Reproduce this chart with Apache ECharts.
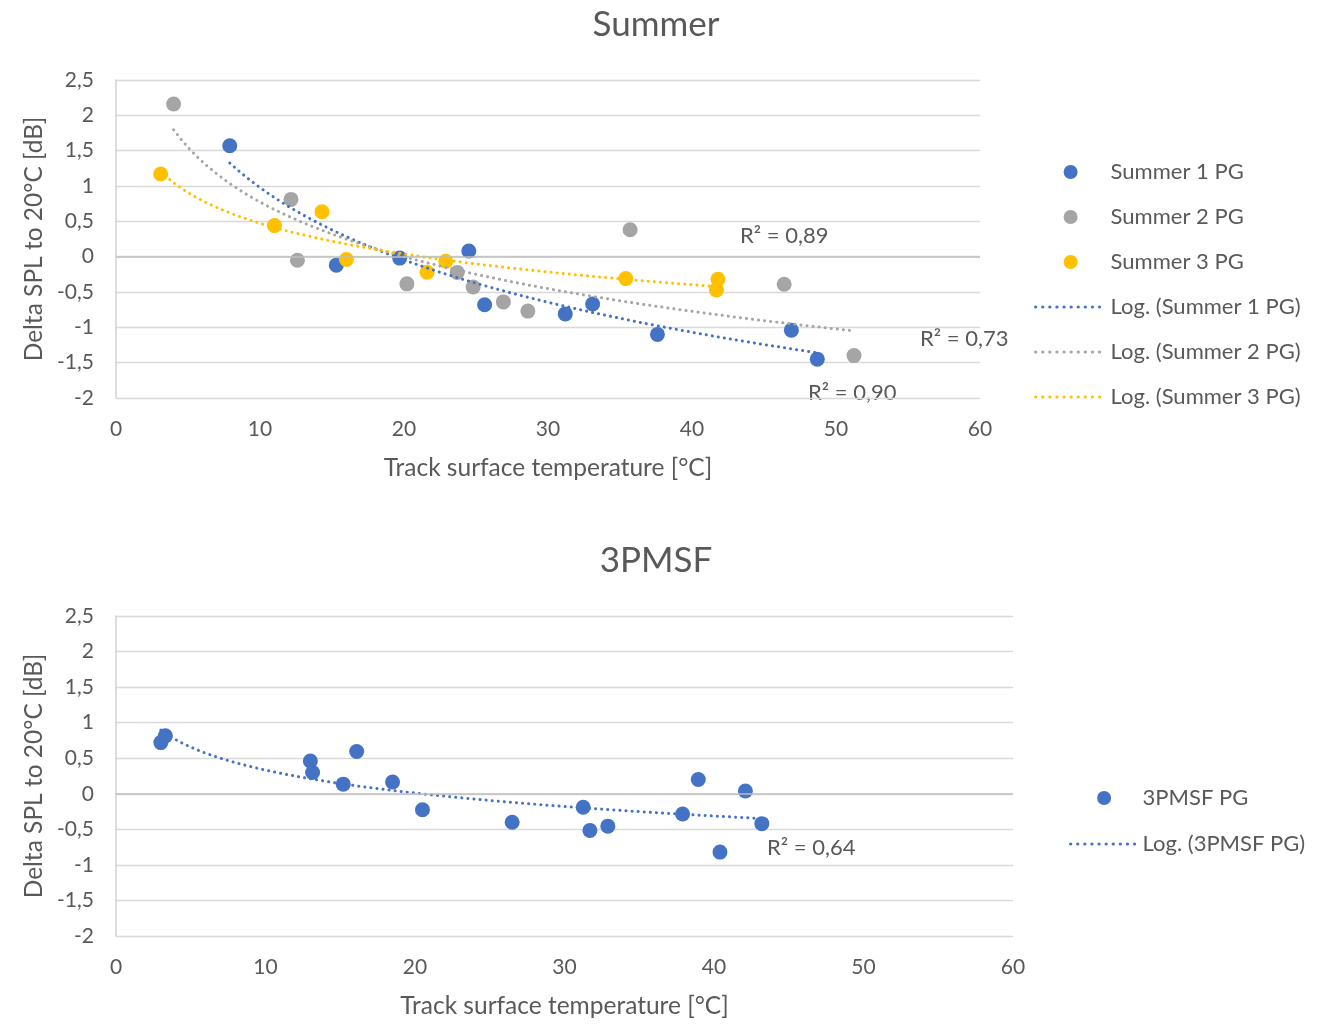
<!DOCTYPE html>
<html>
<head>
<meta charset="utf-8">
<script src="https://cdn.jsdelivr.net/npm/echarts@6/dist/echarts.min.js"></script>
<style>
  html, body { margin: 0; padding: 0; background: #ffffff; }
  #chart { width: 1321px; height: 1024px; }
</style>
</head>
<body>
<div id="chart"></div>
<script>
// Track surface temperature [°C] vs. delta SPL to 20°C [dB]
const summer1X = [7.9, 15.3, 19.7, 24.5, 25.6, 31.2, 33.1, 37.6, 46.9, 48.7];
const summer1Y = [1.57, -0.12, -0.02, 0.08, -0.68, -0.81, -0.67, -1.10, -1.04, -1.45];

const summer2X = [4.0, 12.15, 12.6, 20.2, 23.7, 24.8, 26.9, 28.6, 35.7, 46.4, 51.25];
const summer2Y = [2.16, 0.81, -0.05, -0.385, -0.225, -0.43, -0.64, -0.77, 0.38, -0.39, -1.40];

const summer3X = [3.1, 11.0, 14.3, 16.0, 21.6, 22.9, 35.4, 41.8, 41.7];
const summer3Y = [1.17, 0.44, 0.635, -0.04, -0.22, -0.065, -0.31, -0.32, -0.47];

const pmsfX = [3.0, 3.3, 13.0, 13.15, 16.1, 15.2, 18.5, 20.5, 26.5, 31.25, 31.7, 32.9, 38.95, 37.9, 42.1, 40.4, 43.2];
const pmsfY = [0.72, 0.815, 0.46, 0.30, 0.595, 0.135, 0.165, -0.225, -0.40, -0.19, -0.515, -0.455, 0.20, -0.285, 0.04, -0.82, -0.42];

const xTicks = { min: 0, max: 60, interval: 10 };
const yTicks = { min: -2, max: 2.5, interval: 0.5 };

const rSquaredLabels = ['R² = 0,89', 'R² = 0,73', 'R² = 0,90', 'R² = 0,64'];

const BLUE = '#4472C4', GRAY = '#A5A5A5', GOLD = '#FFC000';
const TEXT = '#595959';
const FONT = 'Lato, "Open Sans", sans-serif';
const DOTS = [0.1, 6];

function zip(xs, ys) { return xs.map((x, i) => [x, ys[i]]); }

// least-squares fit of y = a + b·ln(x), sampled across the data range
function logTrend(xs, ys, steps) {
  const n = xs.length;
  const lx = xs.map(Math.log);
  const mx = lx.reduce((s, v) => s + v, 0) / n;
  const my = ys.reduce((s, v) => s + v, 0) / n;
  let sxy = 0, sxx = 0;
  for (let i = 0; i < n; i++) { sxy += (lx[i] - mx) * (ys[i] - my); sxx += (lx[i] - mx) ** 2; }
  const b = sxy / sxx, a = my - b * mx;
  const lo = Math.min(...xs), hi = Math.max(...xs);
  const pts = [];
  for (let k = 0; k <= steps; k++) {
    const x = lo + (hi - lo) * k / steps;
    pts.push([x, a + b * Math.log(x)]);
  }
  return pts;
}

const commaFmt = v => String(v).replace('.', ',');

function makeX(gridIndex, nameGap) {
  return {
    type: 'value', gridIndex, min: xTicks.min, max: xTicks.max, interval: xTicks.interval,
    name: 'Track surface temperature [°C]', nameLocation: 'middle', nameGap,
    nameTextStyle: { fontSize: 24.5, color: TEXT, fontFamily: FONT },
    axisLine: { show: false }, axisTick: { show: false }, splitLine: { show: false },
    axisLabel: { fontSize: 21, color: TEXT, fontFamily: FONT, margin: 21 }
  };
}
function makeY(gridIndex) {
  return {
    type: 'value', gridIndex, min: yTicks.min, max: yTicks.max, interval: yTicks.interval,
    name: 'Delta SPL to 20°C [dB]', nameLocation: 'middle', nameGap: 68,
    nameTextStyle: { fontSize: 24.5, color: TEXT, fontFamily: FONT },
    axisLine: { show: true, lineStyle: { color: '#D0D0D0', width: 1.5 } },
    axisTick: { show: false },
    splitLine: { show: true, lineStyle: { color: '#D9D9D9', width: 1.3 } },
    axisLabel: { fontSize: 21, color: TEXT, fontFamily: FONT, margin: 22, formatter: commaFmt }
  };
}

const zeroLine = {
  silent: true, symbol: 'none', label: { show: false },
  lineStyle: { color: '#BFBFBF', width: 1.6, type: 'solid' },
  data: [{ yAxis: 0 }]
};

function scatter(name, xs, ys, color, idx, extra) {
  return Object.assign({
    name, type: 'scatter', xAxisIndex: idx, yAxisIndex: idx,
    data: zip(xs, ys), symbolSize: 15, itemStyle: { color, opacity: 1 }, z: 3
  }, extra || {});
}
function trendLine(name, xs, ys, color, idx) {
  return {
    name, type: 'line', xAxisIndex: idx, yAxisIndex: idx,
    data: logTrend(xs, ys, 80), showSymbol: false, symbol: 'none', smooth: false,
    lineStyle: { color, width: 3, type: DOTS, cap: 'round' },
    itemStyle: { color }, z: 4, silent: true
  };
}
// legend entry for a trendline: dotted stroke only, no marker
function lineEntry(name) {
  return { name, itemStyle: { opacity: 0 }, lineStyle: { width: 3.2, type: [0.1, 7], cap: 'round' } };
}

const legendText = { fontSize: 22, color: TEXT, fontFamily: FONT, lineHeight: 24 };

const option = {
  animation: false,
  backgroundColor: '#ffffff',
  grid: [
    { left: 116, top: 80, width: 864, height: 318 },
    { left: 116, top: 616, width: 897, height: 320 }
  ],
  xAxis: [makeX(0, 58), makeX(1, 58)],
  yAxis: [makeY(0), makeY(1)],
  legend: [
    {
      orient: 'vertical', left: 1029, top: 155, itemWidth: 70, itemHeight: 14, itemGap: 21,
      textStyle: legendText,
      data: ['Summer 1 PG', 'Summer 2 PG', 'Summer 3 PG',
             lineEntry('Log. (Summer 1 PG)'), lineEntry('Log. (Summer 2 PG)'), lineEntry('Log. (Summer 3 PG)')]
    },
    {
      orient: 'vertical', left: 1064, top: 781, itemWidth: 67, itemHeight: 14, itemGap: 22,
      textStyle: legendText,
      data: ['3PMSF PG', lineEntry('Log. (3PMSF PG)')]
    }
  ],
  series: [
    scatter('Summer 1 PG', summer1X, summer1Y, BLUE, 0, { markLine: zeroLine }),
    scatter('Summer 2 PG', summer2X, summer2Y, GRAY, 0),
    scatter('Summer 3 PG', summer3X, summer3Y, GOLD, 0),
    trendLine('Log. (Summer 1 PG)', summer1X, summer1Y, BLUE, 0),
    trendLine('Log. (Summer 2 PG)', summer2X, summer2Y, GRAY, 0),
    trendLine('Log. (Summer 3 PG)', summer3X, summer3Y, GOLD, 0),
    scatter('3PMSF PG', pmsfX, pmsfY, BLUE, 1, { markLine: zeroLine }),
    trendLine('Log. (3PMSF PG)', pmsfX, pmsfY, BLUE, 1)
  ],
  graphic: [
    { type: 'text', x: 656, y: 25, style: { text: 'Summer', fill: TEXT, font: '35px ' + FONT, textAlign: 'center', textVerticalAlign: 'middle' } },
    { type: 'text', x: 656, y: 561, style: { text: '3PMSF', fill: TEXT, font: '35px ' + FONT, textAlign: 'center', textVerticalAlign: 'middle' } },
    { type: 'text', x: 740, y: 236, style: { text: rSquaredLabels[0], fill: TEXT, font: '22px ' + FONT, textVerticalAlign: 'middle' } },
    { type: 'text', x: 920, y: 339, style: { text: rSquaredLabels[1], fill: TEXT, font: '22px ' + FONT, textVerticalAlign: 'middle' } },
    { type: 'text', x: 808, y: 393, style: { text: rSquaredLabels[2], fill: TEXT, font: '22px ' + FONT, textVerticalAlign: 'middle' } },
    { type: 'text', x: 767, y: 848, style: { text: rSquaredLabels[3], fill: TEXT, font: '22px ' + FONT, textVerticalAlign: 'middle' } }
  ]
};

const chart = echarts.init(document.getElementById('chart'), null, { renderer: 'canvas' });
chart.setOption(option);
</script>
</body>
</html>
